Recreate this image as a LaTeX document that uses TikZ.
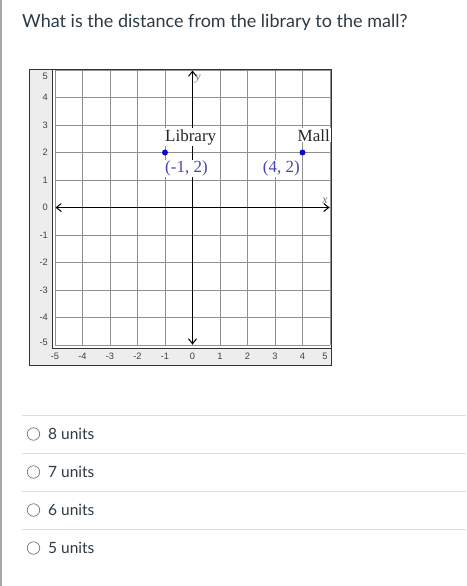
\documentclass[tikz,border=0pt]{standalone}
\usepackage{fontspec}
\setmainfont{Lato}
\newfontfamily\graphserif{Liberation Serif}
\newfontfamily\ticksans{Liberation Sans}
\usetikzlibrary{arrows.meta}
\definecolor{canvastext}{HTML}{2D3B45}
\definecolor{gridgray}{HTML}{909090}
\definecolor{panelgray}{HTML}{EDEDED}
\definecolor{frameline}{HTML}{333333}
\definecolor{sepline}{HTML}{DDDDDD}
\definecolor{ptblue}{HTML}{0A0AD0}
\definecolor{lblblue}{HTML}{4646B0}
\definecolor{leftbar}{HTML}{A8A8A8}
\definecolor{radiogray}{HTML}{777777}
\tikzset{
  gridline/.style={draw=gridgray, line width=0.9pt},
  axisline/.style={draw=black, line width=1pt, {Straight Barb[length=5pt,width=8pt]}-{Straight Barb[length=5pt,width=8pt]}},
  ticklbl/.style={font=\ticksans\fontsize{9.3}{9.3}\selectfont, text=black!75, inner sep=0pt},
  placelbl/.style={font=\graphserif\fontsize{17}{17}\selectfont, text=black!85, fill=white, inner sep=1pt},
  coordlbl/.style={font=\graphserif\fontsize{17}{17}\selectfont, text=lblblue, fill=white, inner sep=1pt},
  axlbl/.style={font=\graphserif\itshape\fontsize{12}{12}\selectfont, text=black!55, inner sep=0pt},
  ptdot/.style={circle, fill=ptblue, inner sep=0pt, minimum size=6pt},
  radio/.style={circle, draw=radiogray, line width=0.7pt, minimum size=12.5pt, inner sep=0pt},
  opttext/.style={font=\fontsize{15.5}{15.5}\selectfont, text=canvastext, anchor=west, inner sep=0pt},
  sep/.style={draw=sepline, line width=1pt}
}
\begin{document}
\begin{tikzpicture}[x=1pt, y=-1pt]
\useasboundingbox (0,0) rectangle (466,586);
\fill[white] (0,0) rectangle (466,586);
% left page bar
\draw[leftbar, line width=1.5pt] (1,0) -- (1,586);
% question
\node[font=\fontsize{18}{18}\selectfont, text=canvastext, anchor=base west, inner sep=0pt] (q) at (22,28) {What is the distance from the library to the mall?};
% applet panel
\draw[fill=panelgray, draw=frameline, line width=1pt] (29,70) rectangle (331,365);
\draw[fill=white, draw=frameline, line width=1pt] (52,70) rectangle (331,348);
% grid
\foreach \i in {0,...,10} {
  \draw[gridline] ({55+27.5*\i},70) -- ({55+27.5*\i},345);
  \draw[gridline] (55,{70+27.5*\i}) -- (330,{70+27.5*\i});
}
% axes
\coordinate (xl) at (55.5,207.5);
\coordinate (xr) at (329.5,207.5);
\coordinate (yt) at (192.5,70.5);
\coordinate (yb) at (192.5,344.5);
\draw[axisline] (xl) -- (xr);
\draw[axisline] (yb) -- (yt);
\node[axlbl] (xlab) at (325,201) {x};
\node[axlbl] (ylab) at (198,79) {y};
% tick labels
\foreach \v in {4,3,2,1,0,-1,-2,-3,-4} {
  \node[ticklbl, anchor=east] at (48,{207.5-27.5*\v}) {\v};
}
\node[ticklbl, anchor=east] (y5) at (48,76) {5};
\node[ticklbl, anchor=east] (ym5) at (48,342) {-5};
\foreach \v in {-4,-3,-2,-1,0,1,2,3,4} {
  \node[ticklbl] at ({192.5+27.5*\v},356) {\v};
}
\node[ticklbl] (xm5) at (55,356) {-5};
\node[ticklbl] (x5) at (325,356) {5};
% points and labels
\node[placelbl, anchor=base west] (lib) at (164,141) {Library};
\node[placelbl, anchor=base east] (mall) at (331,141) {Mall};
\node[coordlbl, anchor=base west] (libc) at (164,172.5) {(-1, 2)};
\node[coordlbl, anchor=base east] (mallc) at (301,172.5) {(4, 2)};
\node[ptdot] (pl) at (165,152.5) {};
\node[ptdot] (pm) at (302.5,152.5) {};
% options
\foreach \y in {415,453,491,529} {
  \draw[sep] (22,\y) -- (466,\y);
}
\node[radio] (r1) at (33.5,434) {};
\node[radio] (r2) at (33.5,472) {};
\node[radio] (r3) at (33.5,510) {};
\node[radio] (r4) at (33.5,548) {};
\node[opttext] (o1) at (48,433.5) {8 units};
\node[opttext] (o2) at (48,471.5) {7 units};
\node[opttext] (o3) at (48,509.5) {6 units};
\node[opttext] (o4) at (48,547.5) {5 units};
\end{tikzpicture}
\end{document}
